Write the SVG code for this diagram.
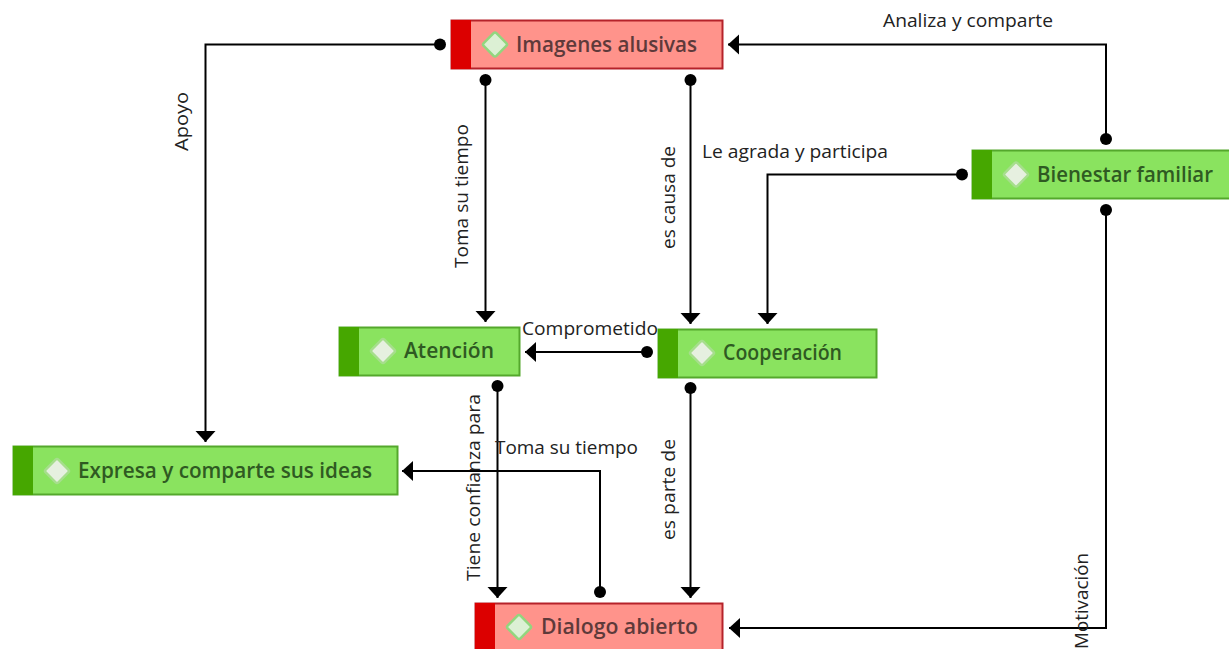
<svg xmlns="http://www.w3.org/2000/svg" width="1229" height="649" viewBox="0 0 1229 649">
<style>
.bg{stroke-width:2}
.g .bg{fill:#8ae35f;stroke:#54a82c}
.g .tab{fill:#46a700}
.g .lbl{fill:#2f5a22}
.r .bg{fill:#ff938b;stroke:#b5222a}
.r .tab{fill:#dc0000}
.r .lbl{fill:#5e3a3a}
.r .dia{fill:#dcf0d4;stroke:#92d67e}
.dia{fill:#e6f0e0;stroke:#a6de8c;stroke-width:2.5}
.lbl{font:600 22px "Open Sans","Noto Sans",sans-serif}
.cl{font:19px "Open Sans","Noto Sans",sans-serif;fill:#222}
.c{fill:none;stroke:#000;stroke-width:2;marker-start:url(#dot);marker-end:url(#arr)}
</style>
<defs>
<marker id="dot" markerUnits="userSpaceOnUse" markerWidth="14" markerHeight="14" refX="7" refY="7" orient="auto"><circle cx="7" cy="7" r="6" fill="#000"/></marker>
<marker id="arr" markerUnits="userSpaceOnUse" markerWidth="14" markerHeight="22" refX="11" refY="11" orient="auto"><path d="M0 1L11 11L0 21Z" fill="#000"/></marker>
</defs>
<g id="connectors">
<path class="c" d="M440 44.500H205.500V442"/>
<path class="c" d="M485.500 80V322"/>
<path class="c" d="M690.500 80V324"/>
<path class="c" d="M1106 139V44.500H728"/>
<path class="c" d="M962 174.500H767.500V324"/>
<path class="c" d="M647 352H525"/>
<path class="c" d="M497.500 386V598"/>
<path class="c" d="M690.500 388V598"/>
<path class="c" d="M600 592V471H402"/>
<path class="c" d="M1106 210V628H729"/>
<text class="cl" x="883" y="27" textLength="170" lengthAdjust="spacingAndGlyphs">Analiza y comparte</text>
<text class="cl" x="702" y="158" textLength="186" lengthAdjust="spacingAndGlyphs">Le agrada y participa</text>
<text class="cl" x="522" y="335" textLength="136" lengthAdjust="spacingAndGlyphs">Comprometido</text>
<text class="cl" x="495" y="454" textLength="143" lengthAdjust="spacingAndGlyphs">Toma su tiempo</text>
<text class="cl" transform="translate(188 151) rotate(-90)" textLength="59" lengthAdjust="spacingAndGlyphs">Apoyo</text>
<text class="cl" transform="translate(468 268) rotate(-90)" textLength="144" lengthAdjust="spacingAndGlyphs">Toma su tiempo</text>
<text class="cl" transform="translate(675 249) rotate(-90)" textLength="103" lengthAdjust="spacingAndGlyphs">es causa de</text>
<text class="cl" transform="translate(480 581) rotate(-90)" textLength="187" lengthAdjust="spacingAndGlyphs">Tiene confianza para</text>
<text class="cl" transform="translate(675 540) rotate(-90)" textLength="101" lengthAdjust="spacingAndGlyphs">es parte de</text>
<text class="cl" transform="translate(1088 649) rotate(-90)" textLength="96" lengthAdjust="spacingAndGlyphs">Motivación</text>
</g>
<g id="n-imagenes" class="r"><rect class="bg" x="451.500" y="20.500" width="271" height="48"/><rect class="tab" x="451" y="20" width="20" height="49"/><rect class="dia" x="-9" y="-9" width="18" height="18" rx="2" transform="translate(495 44.500) rotate(45)"/><text class="lbl" x="516" y="52" textLength="181" lengthAdjust="spacingAndGlyphs">Imagenes alusivas</text></g>
<g id="n-bienestar" class="g"><rect class="bg" x="972.500" y="150.500" width="260" height="48"/><rect class="tab" x="972" y="150" width="20" height="49"/><rect class="dia" x="-9" y="-9" width="18" height="18" rx="2" transform="translate(1016 174.500) rotate(45)"/><text class="lbl" x="1037" y="182" textLength="176" lengthAdjust="spacingAndGlyphs">Bienestar familiar</text></g>
<g id="n-atencion" class="g"><rect class="bg" x="339.500" y="327.500" width="180" height="48"/><rect class="tab" x="339" y="327" width="20" height="49"/><rect class="dia" x="-9" y="-9" width="18" height="18" rx="2" transform="translate(383 351) rotate(45)"/><text class="lbl" x="404" y="358" textLength="90" lengthAdjust="spacingAndGlyphs">Atención</text></g>
<g id="n-cooperacion" class="g"><rect class="bg" x="658.500" y="329.500" width="218" height="48"/><rect class="tab" x="658" y="329" width="20" height="49"/><rect class="dia" x="-9" y="-9" width="18" height="18" rx="2" transform="translate(702 353) rotate(45)"/><text class="lbl" x="723" y="360" textLength="119" lengthAdjust="spacingAndGlyphs">Cooperación</text></g>
<g id="n-expresa" class="g"><rect class="bg" x="13.500" y="446.500" width="384" height="48"/><rect class="tab" x="13" y="446" width="20" height="49"/><rect class="dia" x="-9" y="-9" width="18" height="18" rx="2" transform="translate(57 471) rotate(45)"/><text class="lbl" x="78" y="478" textLength="294" lengthAdjust="spacingAndGlyphs">Expresa y comparte sus ideas</text></g>
<g id="n-dialogo" class="r"><rect class="bg" x="475.500" y="603.500" width="247" height="48"/><rect class="tab" x="475" y="603" width="20" height="49"/><rect class="dia" x="-9" y="-9" width="18" height="18" rx="2" transform="translate(519 627) rotate(45)"/><text class="lbl" x="541" y="634" textLength="157" lengthAdjust="spacingAndGlyphs">Dialogo abierto</text></g>
</svg>
